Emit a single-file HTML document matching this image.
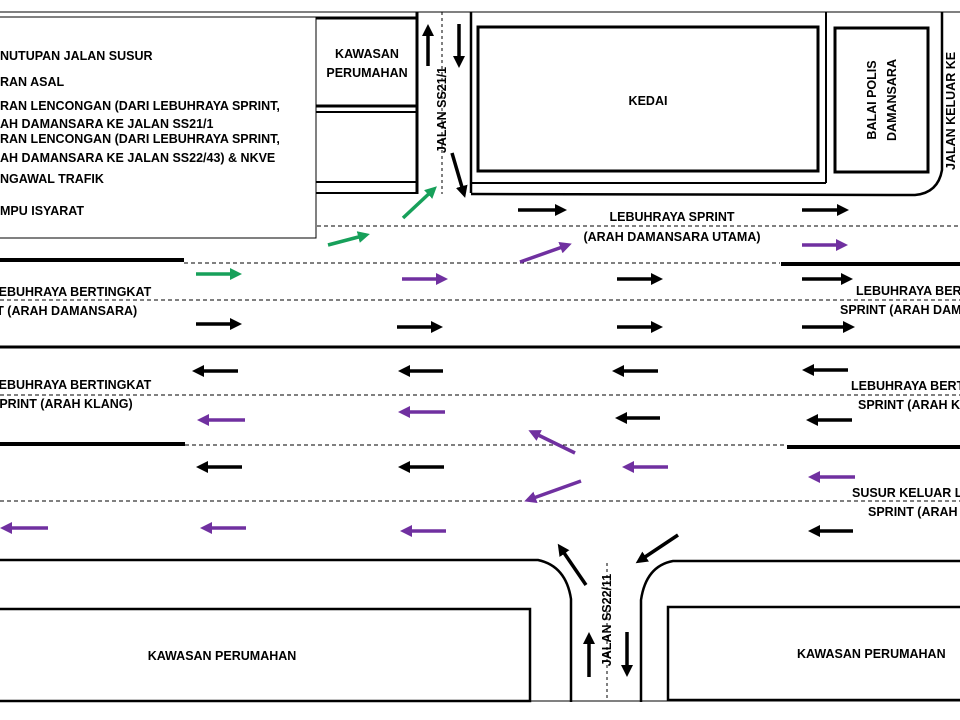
<!DOCTYPE html>
<html><head><meta charset="utf-8"><style>
html,body{margin:0;padding:0;background:#fff;}
svg{display:block;}
text{font-family:"Liberation Sans",sans-serif;font-weight:bold;font-size:12.5px;fill:#000;}
</style></head><body>
<svg width="960" height="720" viewBox="0 0 960 720" xmlns="http://www.w3.org/2000/svg">
<defs>
<marker id="mb" markerUnits="userSpaceOnUse" markerWidth="12" markerHeight="12" refX="8" refY="6" orient="auto"><path d="M0,0 L12,6 L0,12 z" fill="#000"/></marker>
<marker id="mp" markerUnits="userSpaceOnUse" markerWidth="12" markerHeight="12" refX="8" refY="6" orient="auto"><path d="M0,0 L12,6 L0,12 z" fill="#7030a0"/></marker>
<marker id="mg" markerUnits="userSpaceOnUse" markerWidth="12" markerHeight="12" refX="8" refY="6" orient="auto"><path d="M0,0 L12,6 L0,12 z" fill="#17a05a"/></marker>
</defs>
<rect width="960" height="720" fill="#fff"/>
<!-- top line -->
<line x1="0" y1="12" x2="960" y2="12" stroke="#000" stroke-width="1"/>
<!-- legend box -->
<rect x="-2" y="17" width="318" height="221" fill="#fff" stroke="#000" stroke-width="1"/>
<text x="0" y="60">NUTUPAN JALAN SUSUR</text>
<text x="0" y="86">RAN ASAL</text>
<text x="0" y="110">RAN LENCONGAN (DARI LEBUHRAYA SPRINT,</text>
<text x="0" y="128">AH DAMANSARA KE JALAN SS21/1</text>
<text x="0" y="143">RAN LENCONGAN (DARI LEBUHRAYA SPRINT,</text>
<text x="0" y="162">AH DAMANSARA KE JALAN SS22/43) &amp; NKVE</text>
<text x="0" y="183">NGAWAL TRAFIK</text>
<text x="0" y="215">MPU ISYARAT</text>
<!-- KAWASAN top-left buildings -->
<g stroke="#000" fill="none">
<line x1="316" y1="18" x2="418" y2="18" stroke-width="3"/>
<line x1="316" y1="106" x2="418" y2="106" stroke-width="3"/>
<line x1="316" y1="112" x2="418" y2="112" stroke-width="2"/>
<line x1="316" y1="182" x2="418" y2="182" stroke-width="2"/>
<line x1="316" y1="193" x2="418" y2="193" stroke-width="2"/>
<line x1="417" y1="12" x2="417" y2="194" stroke-width="3"/>
<line x1="442" y1="12" x2="442" y2="194" stroke-width="1" stroke-dasharray="3,3"/>
<!-- right side top -->
<line x1="471" y1="12" x2="471" y2="193" stroke-width="2.5"/>
<rect x="478" y="27" width="340" height="144" stroke-width="3"/>
<line x1="471" y1="183" x2="826" y2="183" stroke-width="2"/>
<line x1="826" y1="12" x2="826" y2="183" stroke-width="2"/>
<rect x="835" y="28" width="93" height="144" stroke-width="3"/>
<path d="M471,194 L915,195 Q938,193 942,170 L942,12" stroke-width="2.5"/>
<!-- road lines -->
<line x1="317" y1="226" x2="960" y2="226" stroke-width="1" stroke-dasharray="4,3"/>
<line x1="0" y1="260" x2="184" y2="260" stroke-width="4"/>
<line x1="184" y1="263" x2="780" y2="263" stroke-width="1" stroke-dasharray="4,3"/>
<line x1="781" y1="264" x2="960" y2="264" stroke-width="4"/>
<line x1="0" y1="300" x2="960" y2="300" stroke-width="1" stroke-dasharray="4,3"/>
<line x1="0" y1="347" x2="960" y2="347" stroke-width="3"/>
<line x1="0" y1="395" x2="960" y2="395" stroke-width="1" stroke-dasharray="4,3"/>
<line x1="0" y1="444" x2="185" y2="444" stroke-width="4"/>
<line x1="185" y1="445" x2="787" y2="445" stroke-width="1" stroke-dasharray="4,3"/>
<line x1="787" y1="447" x2="960" y2="447" stroke-width="4"/>
<line x1="0" y1="501" x2="960" y2="501" stroke-width="1" stroke-dasharray="4,3"/>
<!-- bottom -->
<path d="M0,560 L538,560 Q566,566 571,599 L571,702" stroke-width="2.5"/>
<path d="M641,702 L641,600 Q646,566 673,561 L960,561" stroke-width="2.5"/>
<rect x="-3" y="609" width="533" height="92" stroke-width="2.5"/>
<rect x="668" y="607" width="300" height="93" stroke-width="2.5"/>
<line x1="0" y1="701" x2="960" y2="701" stroke-width="1"/>
<line x1="607" y1="563" x2="607" y2="700" stroke-width="1" stroke-dasharray="3,3"/>
</g>
<!-- labels -->
<text x="367" y="58" text-anchor="middle">KAWASAN</text>
<text x="367" y="77" text-anchor="middle">PERUMAHAN</text>
<text x="648" y="105" text-anchor="middle">KEDAI</text>
<text transform="translate(876,100) rotate(-90)" text-anchor="middle">BALAI POLIS</text>
<text transform="translate(896,100) rotate(-90)" text-anchor="middle">DAMANSARA</text>
<text transform="translate(955,170) rotate(-90)">JALAN KELUAR KE</text>
<text transform="translate(446,110) rotate(-90)" text-anchor="middle">JALAN SS21/1</text>
<text transform="translate(611,620) rotate(-90)" text-anchor="middle">JALAN SS22/11</text>
<text x="672" y="221" text-anchor="middle">LEBUHRAYA SPRINT</text>
<text x="672" y="241" text-anchor="middle">(ARAH DAMANSARA UTAMA)</text>
<text x="-9" y="296">LEBUHRAYA BERTINGKAT</text>
<text x="-42" y="315">SPRINT (ARAH DAMANSARA)</text>
<text x="-9" y="389">LEBUHRAYA BERTINGKAT</text>
<text x="-9" y="408">SPRINT (ARAH KLANG)</text>
<text x="856" y="295">LEBUHRAYA BERTINGKAT</text>
<text x="840" y="314">SPRINT (ARAH DAMANSARA)</text>
<text x="851" y="390">LEBUHRAYA BERTINGKAT</text>
<text x="858" y="409">SPRINT (ARAH KLANG)</text>
<text x="852" y="497">SUSUR KELUAR LEBUHRAYA</text>
<text x="868" y="516">SPRINT (ARAH DAMANSARA)</text>
<text x="222" y="660" text-anchor="middle">KAWASAN PERUMAHAN</text>
<text x="797" y="658">KAWASAN PERUMAHAN</text>
<!-- black arrows -->
<g stroke="#000" stroke-width="3.5" marker-end="url(#mb)">
<line x1="428" y1="66" x2="428" y2="28"/>
<line x1="459" y1="24" x2="459" y2="64"/>
<line x1="452" y1="153" x2="464" y2="194"/>
<line x1="518" y1="210" x2="563" y2="210"/>
<line x1="802" y1="210" x2="845" y2="210"/>
<line x1="617" y1="279" x2="659" y2="279"/>
<line x1="802" y1="279" x2="849" y2="279"/>
<line x1="196" y1="324" x2="238" y2="324"/>
<line x1="397" y1="327" x2="439" y2="327"/>
<line x1="617" y1="327" x2="659" y2="327"/>
<line x1="802" y1="327" x2="851" y2="327"/>
<line x1="238" y1="371" x2="196" y2="371"/>
<line x1="443" y1="371" x2="402" y2="371"/>
<line x1="658" y1="371" x2="616" y2="371"/>
<line x1="848" y1="370" x2="806" y2="370"/>
<line x1="660" y1="418" x2="619" y2="418"/>
<line x1="852" y1="420" x2="810" y2="420"/>
<line x1="242" y1="467" x2="200" y2="467"/>
<line x1="444" y1="467" x2="402" y2="467"/>
<line x1="853" y1="531" x2="812" y2="531"/>
<line x1="586" y1="585" x2="560" y2="547"/>
<line x1="678" y1="535" x2="639" y2="561"/>
<line x1="589" y1="677" x2="589" y2="636"/>
<line x1="627" y1="632" x2="627" y2="673"/>
</g>
<!-- purple arrows -->
<g stroke="#7030a0" stroke-width="3.5" marker-end="url(#mp)">
<line x1="520" y1="262" x2="568" y2="245"/>
<line x1="402" y1="279" x2="444" y2="279"/>
<line x1="802" y1="245" x2="844" y2="245"/>
<line x1="245" y1="420" x2="201" y2="420"/>
<line x1="445" y1="412" x2="402" y2="412"/>
<line x1="668" y1="467" x2="626" y2="467"/>
<line x1="855" y1="477" x2="812" y2="477"/>
<line x1="48" y1="528" x2="4" y2="528"/>
<line x1="246" y1="528" x2="204" y2="528"/>
<line x1="446" y1="531" x2="404" y2="531"/>
<line x1="575" y1="453" x2="532" y2="432"/>
<line x1="581" y1="481" x2="528" y2="500"/>
</g>
<!-- green arrows -->
<g stroke="#17a05a" stroke-width="3.5" marker-end="url(#mg)">
<line x1="328" y1="245" x2="366" y2="235"/>
<line x1="403" y1="218" x2="434" y2="189"/>
<line x1="196" y1="274" x2="238" y2="274"/>
</g>
</svg>
</body></html>
